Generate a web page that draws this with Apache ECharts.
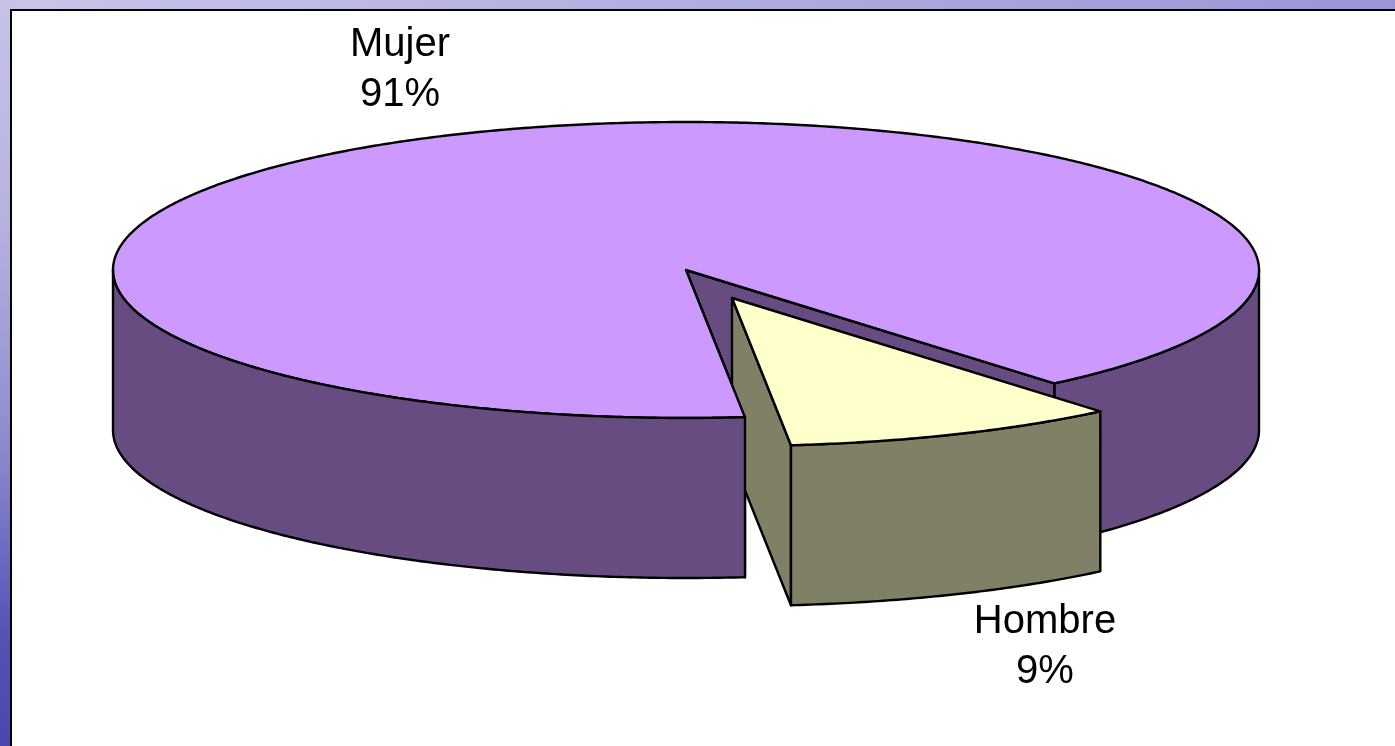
<!DOCTYPE html>
<html>
<head>
<meta charset="utf-8">
<style>html,body{margin:0;padding:0;background:#fff}#c{width:1395px;height:746px}</style>
<script src="https://cdn.jsdelivr.net/npm/echarts@6/dist/echarts.min.js"></script>
</head>
<body>
<div id="c"></div>
<script>
const categories = ['Mujer', 'Hombre'];
const shares = [90.53, 9.47];
const topColors = ['#cc99ff', '#ffffcc'];
const sideColors = ['#664c80', '#808066'];

const CX = 686, CY = 270, RX = 573, RY = 148, DEPTH = 160;
const START_DEG = 50;
const EXPLODE = [0, 0, 46, 28];
const labelAnchors = [[400, 70], [1045, 647]];

const total = shares.reduce((a, b) => a + b, 0);
const hombreSweep = shares[1] / total * 360;
const hombreStart = START_DEG, hombreEnd = START_DEG + hombreSweep;
const rad = d => d * Math.PI / 180;

function pt(deg, ox, oy, down) {
  return [CX + ox + RX * Math.cos(rad(deg)), CY + oy + RY * Math.sin(rad(deg)) + (down ? DEPTH : 0)];
}
function arc(a, b, ox, oy, down) {
  const out = [], n = Math.max(2, Math.ceil(Math.abs(b - a) * 2));
  for (let i = 0; i <= n; i++) out.push(pt(a + (b - a) * i / n, ox, oy, down));
  return out;
}
function poly(points, fill, z2) {
  return {
    type: 'polygon', z2: z2, shape: { points: points },
    style: { fill: fill, stroke: '#000', lineWidth: 2.4, lineJoin: 'round' }
  };
}
function wall(a, b, ox, oy, fill, z2) {
  return poly(arc(a, b, ox, oy, false).concat(arc(b, a, ox, oy, true)), fill, z2);
}
function cut(deg, ox, oy, fill, z2) {
  const c = [CX + ox, CY + oy], d = [CX + ox, CY + oy + DEPTH];
  return poly([c, pt(deg, ox, oy, false), pt(deg, ox, oy, true), d], fill, z2);
}
function text(i, z2) {
  return {
    type: 'text', z2: z2, x: labelAnchors[i][0], y: labelAnchors[i][1],
    style: {
      text: categories[i] + '\n' + Math.round(shares[i] / total * 100) + '%',
      fontFamily: '"Liberation Sans", Arial, sans-serif', fontSize: 40, lineHeight: 50,
      fill: '#000', align: 'center', verticalAlign: 'middle'
    }
  };
}
function renderSlice(params) {
  const i = params.dataIndex;
  let children;
  if (i === 0) {
    children = [
      wall(0, hombreStart, 0, 0, sideColors[0], 1),
      cut(hombreStart, 0, 0, sideColors[0], 2),
      cut(hombreEnd, 0, 0, sideColors[0], 2),
      poly([[CX, CY]].concat(arc(hombreEnd, hombreStart + 360, 0, 0, false)), topColors[0], 6),
      wall(hombreEnd, 180, 0, 0, sideColors[0], 6),
      text(0, 9)
    ];
  } else {
    const ox = EXPLODE[2], oy = EXPLODE[3];
    children = [
      cut(hombreEnd, ox, oy, sideColors[1], 3),
      wall(hombreStart, hombreEnd, ox, oy, sideColors[1], 4),
      poly([[CX + ox, CY + oy]].concat(arc(hombreStart, hombreEnd, ox, oy, false)), topColors[1], 5),
      text(1, 9)
    ];
  }
  return { type: 'group', children: children };
}

const chart = echarts.init(document.getElementById('c'), null, { renderer: 'canvas' });
chart.setOption({
  animation: false,
  backgroundColor: '#ffffff',
  graphic: {
    elements: [
      { type: 'rect', z: -5, shape: { x: 0, y: 0, width: 1395, height: 9 },
        style: { fill: new echarts.graphic.LinearGradient(0, 0, 1, 0, [
          { offset: 0, color: '#c8c5e8' }, { offset: 1, color: '#9a96d6' }]) } },
      { type: 'rect', z: -5, shape: { x: 0, y: 0, width: 10, height: 746 },
        style: { fill: new echarts.graphic.LinearGradient(0, 0, 0, 1, [
          { offset: 0, color: '#c6c3e7' }, { offset: 0.3, color: '#b5b2e0' },
          { offset: 0.6, color: '#8c8ace' }, { offset: 0.85, color: '#5453b8' },
          { offset: 1, color: '#4a48b0' }]) } },
      { type: 'rect', z: -4, shape: { x: 10, y: 9, width: 1385, height: 2 }, style: { fill: '#000' } },
      { type: 'rect', z: -4, shape: { x: 10, y: 9, width: 2, height: 737 }, style: { fill: '#000' } }
    ]
  },
  series: [{
    type: 'custom',
    coordinateSystem: 'none',
    silent: true,
    data: categories.map((c, i) => ({ name: c, value: shares[i] })),
    renderItem: renderSlice
  }]
});
</script>
</body>
</html>
